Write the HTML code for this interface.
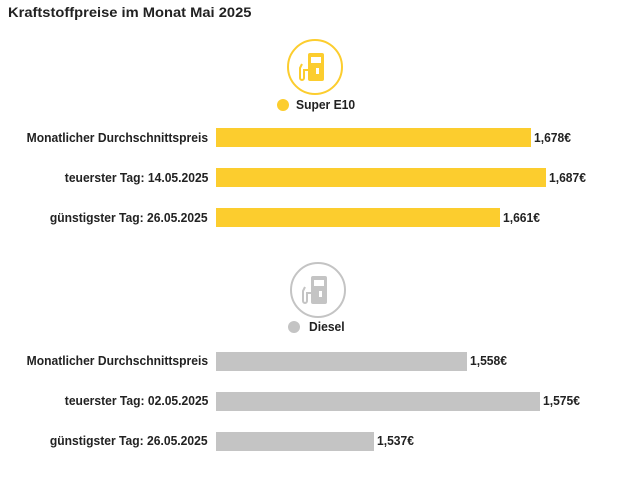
<!DOCTYPE html>
<html><head><meta charset="utf-8"><style>
body{margin:0;background:#fff;width:640px;height:480px;position:relative;overflow:hidden;font-family:"Liberation Sans",sans-serif;font-weight:bold;color:#222}
.t{position:absolute;font-size:13px;white-space:nowrap;transform:scaleX(0.93);}
.l{transform-origin:right center;text-align:right;right:432px}
.v{transform-origin:left center}
.b{position:absolute;left:216px;height:19px}
.y{background:#fccd2e}.g{background:#c4c4c4}
</style></head><body>
<div class="t" style="left:8px;top:4px;font-size:14px;transform:scaleX(1.05);transform-origin:left center">Kraftstoffpreise im Monat Mai 2025</div>
<svg style="position:absolute;left:0;top:0" width="640" height="480">
<circle cx="315" cy="67" r="27" fill="none" stroke="#fccd2e" stroke-width="2"/>
<g fill="#fccd2e"><rect x="308" y="53" width="16" height="28" rx="2"/><rect x="311" y="57" width="10" height="6" fill="#fff"/><rect x="316" y="68" width="3" height="6" fill="#fff"/>
<path d="M308 70 h-4 v8 a2 2 0 0 1 -4 0 v-10 l2 -4" fill="none" stroke="#fccd2e" stroke-width="2"/></g>
<circle cx="283" cy="105" r="6" fill="#fccd2e"/>
<circle cx="318" cy="290" r="27" fill="none" stroke="#c4c4c4" stroke-width="2"/>
<g fill="#c4c4c4"><rect x="311" y="276" width="16" height="28" rx="2"/><rect x="314" y="280" width="10" height="6" fill="#fff"/><rect x="319" y="291" width="3" height="6" fill="#fff"/>
<path d="M311 293 h-4 v8 a2 2 0 0 1 -4 0 v-10 l2 -4" fill="none" stroke="#c4c4c4" stroke-width="2"/></g>
<circle cx="294" cy="327" r="6" fill="#c4c4c4"/>
</svg>
<div class="t v" style="left:296px;top:97px">Super E10</div>
<div class="t v" style="left:309px;top:319px">Diesel</div>

<div class="t l" style="top:130px">Monatlicher Durchschnittspreis</div>
<div class="t l" style="top:170px">teuerster Tag: 14.05.2025</div>
<div class="t l" style="top:210px">günstigster Tag: 26.05.2025</div>
<div class="b y" style="top:128px;width:315px"></div>
<div class="b y" style="top:168px;width:330px"></div>
<div class="b y" style="top:208px;width:284px"></div>
<div class="t v" style="left:534px;top:130px">1,678€</div>
<div class="t v" style="left:549px;top:170px">1,687€</div>
<div class="t v" style="left:503px;top:210px">1,661€</div>

<div class="t l" style="top:353px">Monatlicher Durchschnittspreis</div>
<div class="t l" style="top:393px">teuerster Tag: 02.05.2025</div>
<div class="t l" style="top:433px">günstigster Tag: 26.05.2025</div>
<div class="b g" style="top:352px;width:251px"></div>
<div class="b g" style="top:392px;width:324px"></div>
<div class="b g" style="top:432px;width:158px"></div>
<div class="t v" style="left:470px;top:353px">1,558€</div>
<div class="t v" style="left:543px;top:393px">1,575€</div>
<div class="t v" style="left:377px;top:433px">1,537€</div>
</body></html>
